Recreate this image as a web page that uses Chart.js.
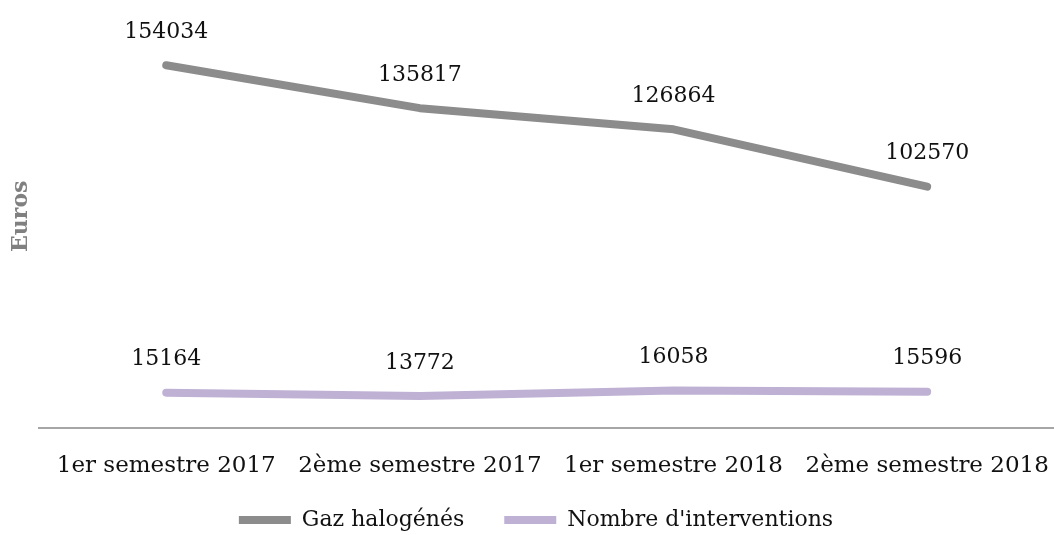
<!DOCTYPE html>
<html>
<head>
<meta charset="utf-8">
<script src="https://cdn.jsdelivr.net/npm/chart.js@4/dist/chart.umd.min.js"></script>
<style>
  html, body { margin: 0; padding: 0; background: #fff; }
  #wrap { width: 1054px; height: 535px; position: relative; }
</style>
</head>
<body>
<div id="wrap"><canvas id="chart"></canvas></div>
<script>
// ── Data ──
const categories = ['1er semestre 2017', '2ème semestre 2017', '1er semestre 2018', '2ème semestre 2018'];
const gazValues = [154034, 135817, 126864, 102570];
const interventionValues = [15164, 13772, 16058, 15596];
const seriesNames = ['Gaz halogénés', "Nombre d'interventions"];

const FONT = '"DejaVu Serif", "Liberation Serif", serif';
const GAZ_COLOR = '#8c8c8c';
const INTER_COLOR = '#bfb1d4';

// ── Data labels above each point ──
const pointLabels = {
  id: 'pointLabels',
  afterDatasetsDraw(chart) {
    const ctx = chart.ctx;
    ctx.save();
    ctx.font = '22px ' + FONT;
    ctx.fillStyle = '#111';
    ctx.textAlign = 'center';
    ctx.textBaseline = 'middle';
    chart.data.datasets.forEach((ds, i) => {
      chart.getDatasetMeta(i).data.forEach((pt, j) => {
        ctx.fillText(String(ds.data[j]), pt.x, pt.y - 33);
      });
    });
    ctx.restore();
  }
};

function lineDataset(label, data, color) {
  return {
    label,
    data,
    borderColor: color,
    backgroundColor: color,
    borderWidth: 8,
    borderCapStyle: 'round',
    borderJoinStyle: 'round',
    pointRadius: 0,
    pointHoverRadius: 0,
    tension: 0,
  };
}

new Chart(document.getElementById('chart'), {
  type: 'line',
  data: {
    labels: categories,
    datasets: [
      lineDataset(seriesNames[0], gazValues, GAZ_COLOR),
      lineDataset(seriesNames[1], interventionValues, INTER_COLOR),
    ]
  },
  options: {
    responsive: true,
    maintainAspectRatio: false,
    animation: false,
    layout: { padding: { left: 8, right: -10, top: 4, bottom: -6 } },
    plugins: {
      tooltip: { enabled: false },
      legend: {
        position: 'bottom',
        labels: {
          usePointStyle: true,
          pointStyle: 'line',
          boxWidth: 52,
          pointStyleWidth: 52,
          padding: 5,
          color: '#111',
          font: { family: FONT, size: 22 },
          generateLabels(chart) {
            const items = Chart.defaults.plugins.legend.labels.generateLabels(chart);
            // a little extra room after every item but the last one
            items.forEach((it, i) => { if (i < items.length - 1) it.text += '     '; });
            return items;
          }
        }
      }
    },
    scales: {
      x: {
        offset: true,
        grid: { display: false, drawTicks: false },
        border: { display: true, color: '#a6a6a6', width: 2 },
        ticks: { color: '#111', font: { family: FONT, size: 23 }, padding: 24, maxRotation: 0, autoSkip: false },
        // let the plot run to the right edge like the original
        afterFit(scale) { scale.paddingLeft = 0; scale.paddingRight = 0; },
      },
      y: {
        min: 0,
        max: 180000,
        grid: { display: false, drawTicks: false },
        border: { display: false },
        ticks: { display: false },
        title: {
          display: true,
          text: 'Euros',
          color: '#808080',
          font: { family: FONT, size: 22, weight: 'bold' },
          padding: { top: 0, bottom: 5 },
        }
      }
    }
  },
  plugins: [pointLabels]
});
</script>
</body>
</html>
